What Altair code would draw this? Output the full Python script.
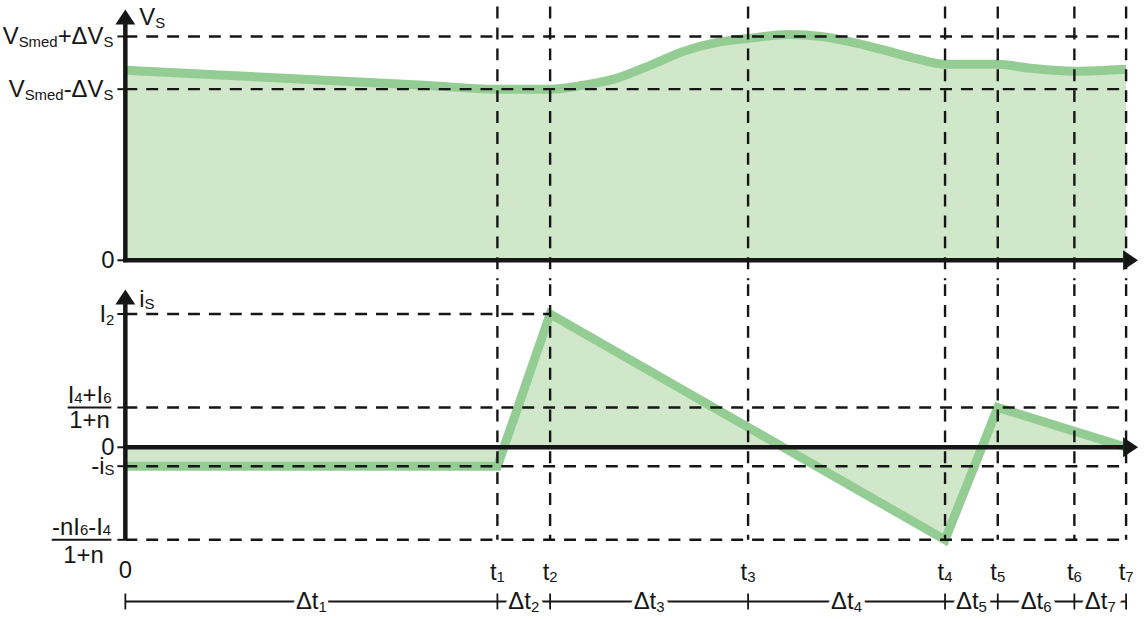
import altair as alt
import pandas as pd

# switching instants t0 ... t7 (time units)
T = [0.0, 3.74, 4.27, 6.26, 8.24, 8.77, 9.54, 10.06]
T_NAMES = ["1", "2", "3", "4", "5", "6", "7"]

# capacitor voltage v_S
VS_LOW = 1.72    # V_Smed - dV_S
VS_HIGH = 2.25   # V_Smed + dV_S
VS_T = [0.0, 1.0, 2.0, 3.0, 3.74, 4.27, 4.6, 4.94, 5.3, 5.61, 5.95, 6.26,
        6.67, 7.0, 7.27, 7.6, 7.94, 8.24, 8.77, 9.1, 9.54, 10.06]
VS_V = [1.91, 1.86, 1.81, 1.76, VS_LOW, VS_LOW, 1.76, 1.83, 1.97, 2.10, 2.19, 2.23,
        2.27, 2.25, 2.20, 2.12, 2.03, 1.97, 1.97, 1.93, 1.90, 1.92]

# switch current i_S
I_2 = 1.34       # I2
I_A = 0.40       # (I4+I6)/(1+n)
I_S = -0.19      # -i_S
I_B = -0.93      # (-nI6-I4)/(1+n)
IS_T = [0.0, 3.74, 4.27, 8.24, 8.77, 10.06]
IS_V = [I_S, I_S, I_2, I_B, I_A, 0.0]

# ---- layout and style ----
W = 1145
H_TOP, H_BOT = 280, 339
XDOM = [-1.26, 10.19]
TOP_DOM = [-0.20, 2.60]
BOT_DOM = [-1.75, 1.64]

FONT = "Liberation Sans"
MAIN, SUB = 24, 15
INK = "#161616"
LINE_GREEN = "#93cd93"
FILL_GREEN = "#d0e7c9"
DASH = [12, 9]
UP = "M0,-0.75L1,0.75L-1,0.75Z"
RIGHT = "M0.75,0L-0.75,-1L-0.75,1Z"


def xq(f):
    return alt.X(f, type="quantitative", axis=None,
                 scale=alt.Scale(domain=XDOM, nice=False, zero=False))


def yq(f, dom):
    return alt.Y(f, type="quantitative", axis=None,
                 scale=alt.Scale(domain=dom, nice=False, zero=False))


ADV = {"V": .667, "S": .667, "m": .833, "e": .556, "d": .556, "+": .584,
       "Δ": .668, "-": .333, "t": .278, "i": .222, "I": .278, "n": .556}


def width(s, size):
    if s.startswith("@"):
        return size * .556
    return size * sum(ADV.get(c, .556) for c in s)


def rich_text(pieces, data, x, y, align, dy, sub_dy=3, halo=False):
    """Text made of normal and subscript runs, laid out left to right."""
    sizes = [SUB if sub else MAIN for _, sub in pieces]
    ws = [width(s, z) for (s, _), z in zip(pieces, sizes)]
    cur = {"right": -sum(ws), "center": -sum(ws) / 2, "left": 0}[align]
    back, front = [], []
    for (s, sub), z, w in zip(pieces, sizes, ws):
        props = dict(align="left", baseline="alphabetic", font=FONT, fontSize=z,
                     dx=cur, dy=dy + (sub_dy if sub else 0))
        enc = dict(x=x, y=y)
        if s.startswith("@"):
            enc["text"] = alt.Text(s[1:] + ":N")
        else:
            props["text"] = s
        if halo:
            back.append(alt.Chart(data).mark_text(color="white", stroke="white",
                                                  strokeWidth=9, **props).encode(**enc))
        front.append(alt.Chart(data).mark_text(color=INK, **props).encode(**enc))
        cur += w
    return back + front


def one(v):
    return pd.DataFrame({"v": [v]})


# ================= top panel : v_S =================
df_vs = pd.DataFrame({"t": VS_T, "v": VS_V, "zero": 0.0})
top_layers = [
    alt.Chart(df_vs).mark_area(color=FILL_GREEN, interpolate="monotone").encode(
        x=xq("t"), y=yq("v", TOP_DOM), y2="zero"),
    alt.Chart(df_vs).mark_line(color=LINE_GREEN, strokeWidth=9, interpolate="monotone").encode(
        x=xq("t"), y=yq("v", TOP_DOM)),
    alt.Chart(pd.DataFrame({"y": [VS_LOW, VS_HIGH], "a": 0.0, "b": T[-1]})).mark_rule(
        color=INK, strokeWidth=2.4, strokeDash=DASH).encode(
        x=xq("a"), x2="b", y=yq("y", TOP_DOM)),
    alt.Chart(pd.DataFrame({"t": T[1:], "a": 2.55, "b": TOP_DOM[0]})).mark_rule(
        color=INK, strokeWidth=2.4, strokeDash=DASH).encode(
        x=xq("t"), y=yq("a", TOP_DOM), y2="b"),
    # axes
    alt.Chart(pd.DataFrame({"t": [0.0], "a": -0.02, "b": 2.38})).mark_rule(
        color=INK, strokeWidth=4.5).encode(x=xq("t"), y=yq("a", TOP_DOM), y2="b"),
    alt.Chart(pd.DataFrame({"y": [0.0], "a": -0.02, "b": 10.03})).mark_rule(
        color=INK, strokeWidth=4.5).encode(x=xq("a"), x2="b", y=yq("y", TOP_DOM)),
    alt.Chart(pd.DataFrame({"t": [0.0], "v": [2.445]})).mark_point(
        shape=UP, size=400, filled=True, color=INK, opacity=1).encode(
        x=xq("t"), y=yq("v", TOP_DOM)),
    alt.Chart(pd.DataFrame({"t": [10.105], "v": [0.0]})).mark_point(
        shape=RIGHT, size=400, filled=True, color=INK, opacity=1).encode(
        x=xq("t"), y=yq("v", TOP_DOM)),
    alt.Chart(pd.DataFrame({"y": [0.0, VS_LOW, VS_HIGH], "a": -0.08, "b": 0.0})).mark_rule(
        color=INK, strokeWidth=2).encode(x=xq("a"), x2="b", y=yq("y", TOP_DOM)),
]
top_layers += rich_text([("V", 0), ("Smed", 1), ("+ΔV", 0), ("S", 1)], one(VS_HIGH),
                        alt.value(114), yq("v", TOP_DOM), "right", 8)
top_layers += rich_text([("V", 0), ("Smed", 1), ("-ΔV", 0), ("S", 1)], one(VS_LOW),
                        alt.value(114), yq("v", TOP_DOM), "right", 8)
top_layers += rich_text([("0", 0)], one(0.0), alt.value(115), yq("v", TOP_DOM), "right", 8)
top_layers += rich_text([("V", 0), ("S", 1)], one(0.0), alt.value(140), alt.value(23),
                        "left", 0, sub_dy=4)

# ================= bottom panel : i_S =================
df_is = pd.DataFrame({"t": IS_T, "v": IS_V, "zero": 0.0})
df_hl = pd.DataFrame({"y": [I_2, I_A, I_S, I_B], "a": 0.0,
                      "b": [T[2], T[-1], T[-1], T[-1]]})
bot_layers = [
    alt.Chart(df_is).mark_area(color=FILL_GREEN).encode(
        x=xq("t"), y=yq("v", BOT_DOM), y2="zero"),
    alt.Chart(df_is).mark_line(color=LINE_GREEN, strokeWidth=9).encode(
        x=xq("t"), y=yq("v", BOT_DOM)),
    alt.Chart(df_hl).mark_rule(color=INK, strokeWidth=2.4, strokeDash=DASH).encode(
        x=xq("a"), x2="b", y=yq("y", BOT_DOM)),
    alt.Chart(pd.DataFrame({"t": T[1:], "a": BOT_DOM[1], "b": I_B})).mark_rule(
        color=INK, strokeWidth=2.4, strokeDash=DASH).encode(
        x=xq("t"), y=yq("a", BOT_DOM), y2="b"),
    # axes
    alt.Chart(pd.DataFrame({"t": [0.0], "a": I_B, "b": 1.45})).mark_rule(
        color=INK, strokeWidth=4.5).encode(x=xq("t"), y=yq("a", BOT_DOM), y2="b"),
    alt.Chart(pd.DataFrame({"y": [0.0], "a": -0.02, "b": 10.03})).mark_rule(
        color=INK, strokeWidth=4.5).encode(x=xq("a"), x2="b", y=yq("y", BOT_DOM)),
    alt.Chart(pd.DataFrame({"t": [0.0], "v": [1.51]})).mark_point(
        shape=UP, size=400, filled=True, color=INK, opacity=1).encode(
        x=xq("t"), y=yq("v", BOT_DOM)),
    alt.Chart(pd.DataFrame({"t": [10.105], "v": [0.0]})).mark_point(
        shape=RIGHT, size=400, filled=True, color=INK, opacity=1).encode(
        x=xq("t"), y=yq("v", BOT_DOM)),
    alt.Chart(pd.DataFrame({"y": [I_2, I_A, 0.0, I_S, I_B], "a": -0.08, "b": 0.0})).mark_rule(
        color=INK, strokeWidth=2).encode(x=xq("a"), x2="b", y=yq("y", BOT_DOM)),
    # fraction bars
    alt.Chart(one(I_A)).mark_rule(color=INK, strokeWidth=2).encode(
        x=alt.value(68), x2=alt.value(112), y=yq("v", BOT_DOM)),
    alt.Chart(one(I_B)).mark_rule(color=INK, strokeWidth=2).encode(
        x=alt.value(52), x2=alt.value(112), y=yq("v", BOT_DOM)),
    # interval row
    alt.Chart(pd.DataFrame({"a": [0.0], "b": [T[-1]]})).mark_rule(
        color=INK, strokeWidth=1.8).encode(x=xq("a"), x2="b", y=alt.value(319)),
    alt.Chart(pd.DataFrame({"t": T})).mark_rule(color=INK, strokeWidth=1.8).encode(
        x=xq("t"), y=alt.value(311), y2=alt.value(327)),
]
yb = yq("v", BOT_DOM)
bot_layers += rich_text([("i", 0), ("S", 1)], one(0.0), alt.value(140), alt.value(23),
                        "left", 0, sub_dy=2)
bot_layers += rich_text([("I", 0), ("2", 1)], one(I_2), alt.value(115), yb, "right", 8)
bot_layers += rich_text([("I", 0), ("4", 1), ("+", 0), ("I", 0), ("6", 1)], one(I_A),
                        alt.value(90), yb, "center", -5, sub_dy=0)
bot_layers += rich_text([("1+n", 0)], one(I_A), alt.value(90), yb, "center", 21)
bot_layers += rich_text([("0", 0)], one(0.0), alt.value(115), yb, "right", 8)
bot_layers += rich_text([("-i", 0), ("S", 1)], one(I_S), alt.value(115), yb, "right", 8,
                        sub_dy=1)
bot_layers += rich_text([("-nI", 0), ("6", 1), ("-I", 0), ("4", 1)], one(I_B),
                        alt.value(82), yb, "center", -5, sub_dy=0)
bot_layers += rich_text([("1+n", 0)], one(I_B), alt.value(84), yb, "center", 23)

df_t = pd.DataFrame({"t": T[1:], "k": T_NAMES})
df_dt = pd.DataFrame({"t": [(a + b) / 2 for a, b in zip(T[:-1], T[1:])], "k": T_NAMES})
bot_layers += rich_text([("0", 0)], pd.DataFrame({"t": [T[0]]}), xq("t"), alt.value(295),
                        "center", 0)
bot_layers += rich_text([("t", 0), ("@k", 1)], df_t, xq("t"), alt.value(297),
                        "center", 0, sub_dy=2)
bot_layers += rich_text([("Δt", 0), ("@k", 1)], df_dt, xq("t"), alt.value(327),
                        "center", 0, sub_dy=3, halo=True)

top = alt.layer(*top_layers).properties(width=W, height=H_TOP)
bottom = alt.layer(*bot_layers).properties(width=W, height=H_BOT)

chart = (
    alt.vconcat(top, bottom, spacing=0)
    .properties(padding=0, background="white")
    .configure_view(stroke=None)
)

chart.save("out.html", embed_options={"renderer": "svg", "actions": False})
